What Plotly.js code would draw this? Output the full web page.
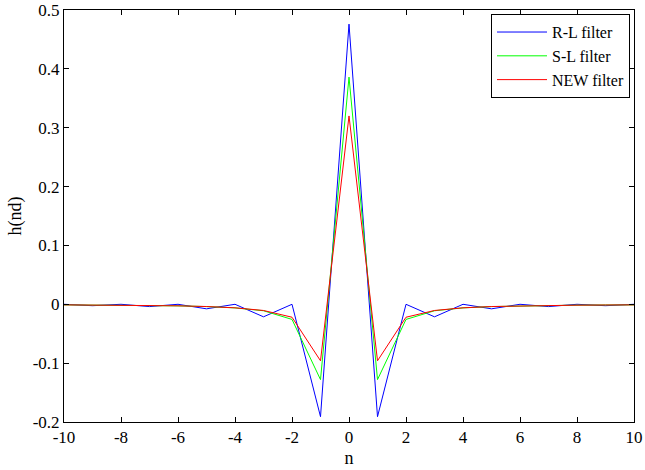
<!DOCTYPE html>
<html>
<head>
<meta charset="utf-8">
<script src="https://cdn.plot.ly/plotly-3.0.1.min.js"></script>
<style>
  body { margin: 0; background: #fff; }
  #plot { width: 645px; height: 470px; }
</style>
</head>
<body>
<div id="plot"></div>
<script>
// sample index n
const n = [-10, -9, -8, -7, -6, -5, -4, -3, -2, -1, 0, 1, 2, 3, 4, 5, 6, 7, 8, 9, 10];

// filter responses
const rlFilter = [0, -0.0024, 0, -0.0039, 0, -0.0077, 0, -0.0213, 0, -0.191, 0.476,
                  -0.191, 0, -0.0213, 0, -0.0077, 0, -0.0039, 0, -0.0024, 0];
const slFilter = [-0.001, -0.0012, -0.0015, -0.002, -0.0027, -0.0039, -0.0061, -0.011, -0.0257, -0.128, 0.386,
                  -0.128, -0.0257, -0.011, -0.0061, -0.0039, -0.0027, -0.002, -0.0015, -0.0012, -0.001];
const newFilter = [-0.001, -0.0012, -0.0015, -0.0019, -0.0026, -0.0038, -0.006, -0.0105, -0.022, -0.096, 0.32,
                   -0.096, -0.022, -0.0105, -0.006, -0.0038, -0.0026, -0.0019, -0.0015, -0.0012, -0.001];

// tick labels (hyphen minus like the original)
const xTicks = [-10, -8, -6, -4, -2, 0, 2, 4, 6, 8, 10];
const xTickText = ['-10', '-8', '-6', '-4', '-2', '0', '2', '4', '6', '8', '10'];
const yTicks = [-0.2, -0.1, 0, 0.1, 0.2, 0.3, 0.4, 0.5];
const yTickText = ['-0.2', '-0.1', '0', '0.1', '0.2', '0.3', '0.4', '0.5'];

const serif = 'Liberation Serif, Times New Roman, serif';

let traces = [
    { x: n, y: rlFilter, name: 'R-L filter', mode: 'lines', line: { color: '#0000ff', width: 1 } },
    { x: n, y: slFilter, name: 'S-L filter', mode: 'lines', line: { color: '#00ff00', width: 1 } },
    { x: n, y: newFilter, name: 'NEW filter', mode: 'lines', line: { color: '#ff0000', width: 1 } }
];

let axisCommon = {
    showgrid: false,
    zeroline: false,
    showline: true,
    linecolor: '#000',
    linewidth: 1,
    mirror: 'ticks',
    ticks: 'inside',
    ticklen: 5,
    tickcolor: '#000',
    tickfont: { family: serif, size: 17, color: '#000' }
};

let layout = {
    width: 645,
    height: 470,
    margin: { l: 64, r: 11, t: 10, b: 48 },
    paper_bgcolor: '#fff',
    plot_bgcolor: '#fff',
    showlegend: true,
    legend: {
        x: 0.993, xanchor: 'right',
        y: 0.99, yanchor: 'top',
        bordercolor: '#000', borderwidth: 1,
        bgcolor: '#fff',
        itemwidth: 50,
        font: { family: serif, size: 16, color: '#000' },
        tracegroupgap: 0
    },
    xaxis: Object.assign({}, axisCommon, {
        range: [-10, 10],
        tickvals: xTicks,
        ticktext: xTickText,
        title: { text: 'n', font: { family: serif, size: 18, color: '#000' }, standoff: 4 }
    }),
    yaxis: Object.assign({}, axisCommon, {
        range: [-0.2, 0.5],
        tickvals: yTicks,
        ticktext: yTickText,
        title: { text: 'h(nd)', font: { family: serif, size: 18, color: '#000' }, standoff: 6 }
    })
};

Plotly.newPlot('plot', traces, layout, { displayModeBar: false, staticPlot: true });
</script>
</body>
</html>
